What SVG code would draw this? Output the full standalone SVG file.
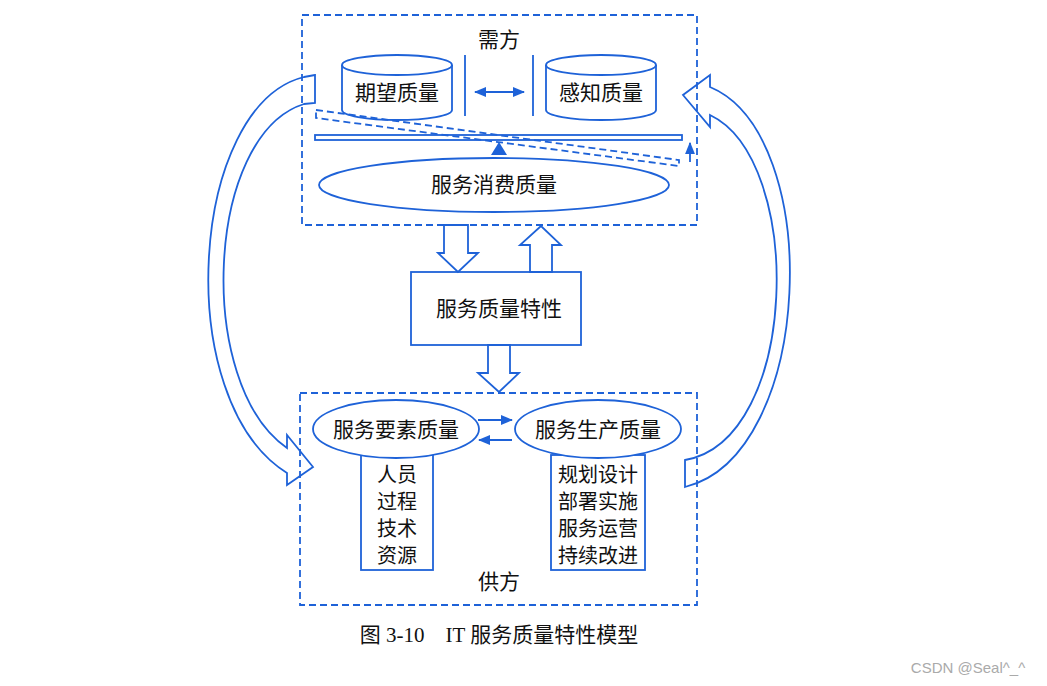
<svg xmlns="http://www.w3.org/2000/svg" width="1047" height="686" viewBox="0 0 1047 686">
<style>
.ln{fill:none;stroke:#1e62d8;stroke-width:1.8}
.sh{fill:#fff;stroke:#1e62d8;stroke-width:1.8}
.ds{fill:none;stroke:#1e62d8;stroke-width:1.8;stroke-dasharray:7,4}
text{font-family:"Noto Sans CJK SC","Liberation Sans",sans-serif;font-size:21px;fill:#111;text-anchor:middle}
.li{font-size:20px}
</style>
<defs>
<marker id="ah" viewBox="0 0 10 10" refX="9" refY="5" markerWidth="7" markerHeight="7" orient="auto-start-reverse"><path d="M0,1 L10,5 L0,9 Z" fill="#1e62d8"/></marker>
</defs>
<rect width="1047" height="686" fill="#fff"/>
<g id="demand">
<rect class="ds" x="302" y="15" width="395" height="210"/>
<text x="499" y="47" font-size="19">需方</text>
</g>
<g id="expected">
<path class="sh" d="M342,65 V110 A55,10 0 0 0 452,110 V65"/>
<ellipse class="sh" cx="397" cy="65" rx="55" ry="10"/>
<text x="397" y="100">期望质量</text>
</g>
<g id="perceived">
<path class="sh" d="M546,65 V110 A55,10 0 0 0 656,110 V65"/>
<ellipse class="sh" cx="601" cy="65" rx="55" ry="10"/>
<text x="601" y="100">感知质量</text>
</g>
<g id="balance">
<line class="ln" x1="465" y1="55" x2="465" y2="116"/>
<line class="ln" x1="533" y1="55" x2="533" y2="116"/>
<rect class="sh" x="315" y="135" width="367" height="5"/>
<path d="M316,110 L679,160 L679,166 L316,118 Z" class="ds" stroke-dasharray="6,3"/>
<path d="M491,155 L499,142 L507,155 Z" fill="#1e62d8"/>
</g>
<g id="consumption">
<ellipse class="sh" cx="494" cy="185" rx="175" ry="27"/>
<text x="494" y="192">服务消费质量</text>
</g>
<g id="characteristics">
<rect class="sh" x="411" y="272" width="170" height="73"/>
<text x="499" y="316">服务质量特性</text>
</g>
<g id="supply">
<rect class="ds" x="300" y="393" width="397" height="212"/>
<text x="499" y="589" font-size="19">供方</text>
</g>
<g id="elements">
<rect class="sh" x="361" y="455" width="72" height="115"/>
<ellipse class="sh" cx="396" cy="429" rx="83" ry="29"/>
<text x="396" y="437">服务要素质量</text>
<text class="li" x="397" y="482">人员</text>
<text class="li" x="397" y="509">过程</text>
<text class="li" x="397" y="536">技术</text>
<text class="li" x="397" y="563">资源</text>
</g>
<g id="production">
<rect class="sh" x="551" y="455" width="94" height="115"/>
<ellipse class="sh" cx="598" cy="429" rx="83" ry="29"/>
<text x="598" y="437">服务生产质量</text>
<text class="li" x="598" y="482">规划设计</text>
<text class="li" x="598" y="509">部署实施</text>
<text class="li" x="598" y="536">服务运营</text>
<text class="li" x="598" y="563">持续改进</text>
</g>
<g id="connectors">
<line class="ln" x1="475" y1="92" x2="524" y2="92" marker-start="url(#ah)" marker-end="url(#ah)"/>
<line class="ln" x1="690" y1="162" x2="690" y2="143" marker-end="url(#ah)"/>
<line class="ln" x1="478" y1="420" x2="512" y2="420" marker-end="url(#ah)"/>
<line class="ln" x1="512" y1="440" x2="479" y2="440" marker-end="url(#ah)"/>
<path class="sh" d="M444,225 V253 H438 L458,272 L478,253 H468 V225 Z"/>
<path class="sh" d="M530,272 V245 H520 L541,226 L561,245 H552 V272 Z"/>
<path class="sh" d="M488,345 V373 H478 L499,392 L519,373 H510 V345 Z"/>
<path class="ln" d="M315,75 L304,77 C190,105 170,400 287,473 L287,485 L313,467 L287,435 L287,448 C195,385 205,135 304,104 L315,103 Z"/>
<path class="ln" d="M685,460 C800,440 805,160 710,115 L710,127 L683,95 L710,75 L710,87 C825,135 815,455 685,487 Z"/>
</g>
<text x="499" y="642" xml:space="preserve" style="font-family:'Liberation Serif','Noto Sans CJK SC',serif;font-size:21px;white-space:pre">图 3-10    IT 服务质量特性模型</text>
<text x="968" y="673" style="font-family:'Liberation Sans',sans-serif;font-size:15px;fill:#aaa">CSDN @Seal^_^</text>
</svg>
